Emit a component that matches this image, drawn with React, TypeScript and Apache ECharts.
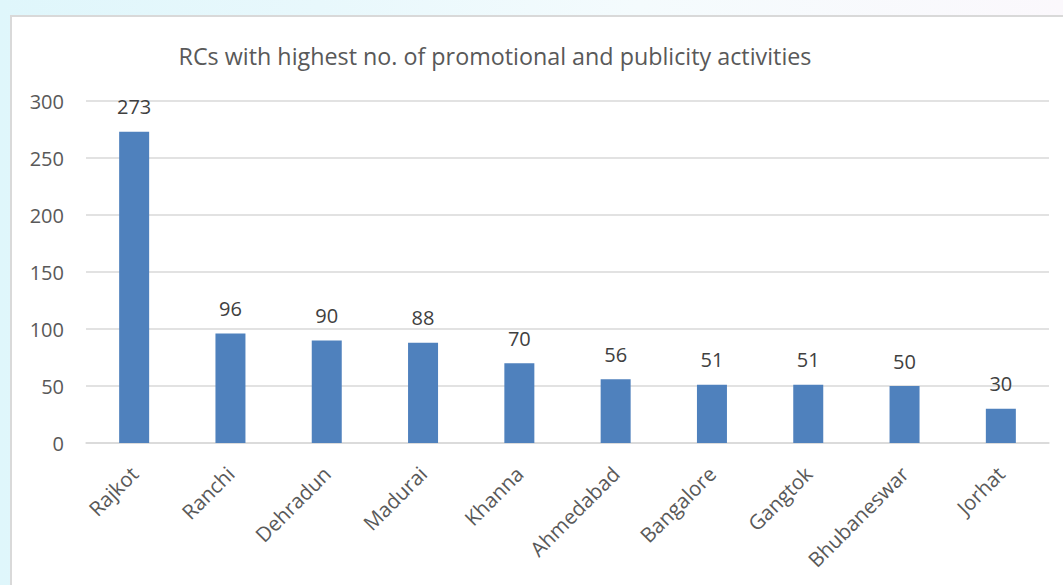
import React, { useEffect, useRef } from "react";
import * as echarts from "echarts";

const categories = ["Rajkot", "Ranchi", "Dehradun", "Madurai", "Khanna", "Ahmedabad", "Bangalore", "Gangtok", "Bhubaneswar", "Jorhat"];
const values = [273, 96, 90, 88, 70, 56, 51, 51, 50, 30];
const yTicks = { min: 0, max: 300, interval: 50 };
const titleText = "RCs with highest no. of promotional and publicity activities";

const FONT = "'Open Sans', 'Noto Sans', sans-serif";
const TEXT = "#595959";

export default function App() {
  const ref = useRef<HTMLDivElement>(null);
  useEffect(() => {
    if (!ref.current) return;
    const chart = echarts.init(ref.current, undefined, { renderer: "svg" });
    chart.setOption({
      animation: false,
      title: {
        text: titleText,
        left: 478,
        top: 22,
        textAlign: "center",
        textStyle: { fontFamily: FONT, fontSize: 23.3, fontWeight: "normal", color: TEXT },
      },
      grid: { left: 74, right: 14, top: 84, bottom: 142, containLabel: false },
      xAxis: {
        type: "category",
        data: categories,
        axisLine: { show: true, lineStyle: { color: "#D9D9D9", width: 1.5 } },
        axisTick: { show: false },
        axisLabel: { rotate: 45, margin: 27, fontFamily: FONT, fontSize: 20.5, color: TEXT, interval: 0 },
      },
      yAxis: {
        type: "value",
        min: yTicks.min,
        max: yTicks.max,
        interval: yTicks.interval,
        axisLine: { show: false },
        axisTick: { show: false },
        splitLine: { lineStyle: { color: "#D9D9D9", width: 1.5 } },
        axisLabel: { margin: 22, fontFamily: FONT, fontSize: 20, color: TEXT },
      },
      series: [
        {
          type: "bar",
          data: values,
          barWidth: 30,
          itemStyle: { color: "#4F81BD" },
          label: { show: true, position: "top", distance: 15, fontFamily: FONT, fontSize: 20, color: "#404040" },
        },
      ],
    });
    return () => chart.dispose();
  }, []);
  return (
    <div
      style={{
        position: "fixed",
        left: 0,
        top: 0,
        width: 1063,
        height: 585,
        background: "linear-gradient(90deg, #dff6fb 0%, #e8f8fc 30%, #f4fbfd 60%, #fbf8fc 100%)",
      }}
    >
      <div
        style={{
          position: "absolute",
          left: 10,
          top: 15,
          width: 1053,
          height: 570,
          background: "#fff",
          borderLeft: "2px solid #D9D9D9",
          borderTop: "2px solid #D9D9D9",
          boxSizing: "border-box",
        }}
      >
        <div ref={ref} style={{ width: 1051, height: 568 }} />
      </div>
    </div>
  );
}
